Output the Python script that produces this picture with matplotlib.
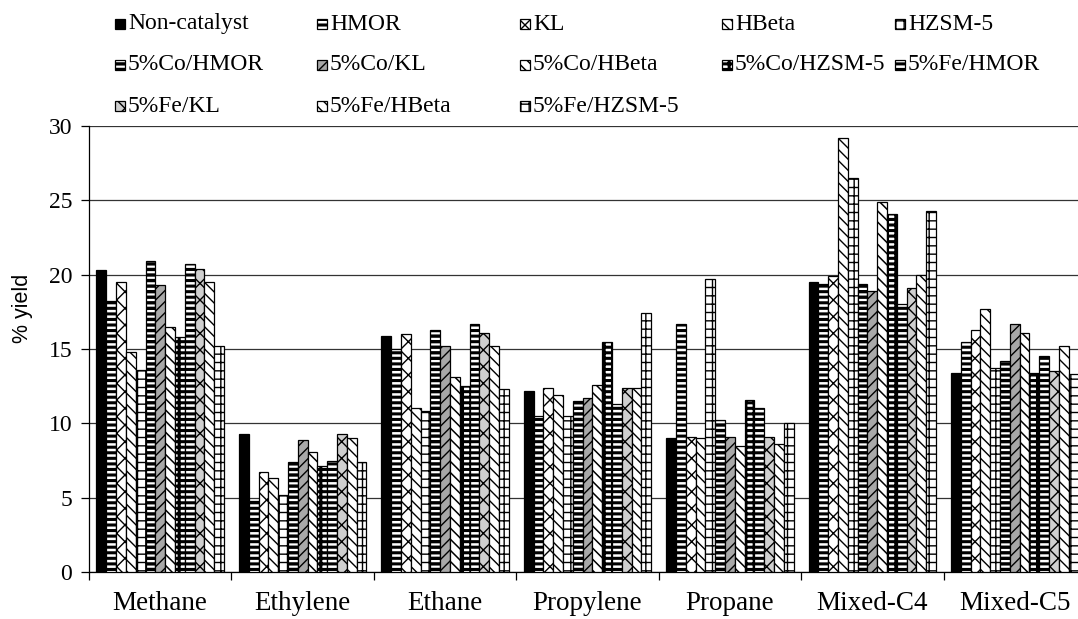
import matplotlib.pyplot as plt
import numpy as np
from matplotlib.patches import Rectangle

# --------------------------------------------------
# Product yields (%) for each catalyst
# --------------------------------------------------
products = ['Methane', 'Ethylene', 'Ethane', 'Propylene', 'Propane', 'Mixed-C4', 'Mixed-C5']

catalysts = ['Non-catalyst', 'HMOR', 'KL', 'HBeta', 'HZSM-5',
             '5%Co/HMOR', '5%Co/KL', '5%Co/HBeta', '5%Co/HZSM-5', '5%Fe/HMOR',
             '5%Fe/KL', '5%Fe/HBeta', '5%Fe/HZSM-5']

non_catalyst = [20.3, 9.3, 15.9, 12.2, 9.0, 19.5, 13.4]
hmor         = [18.2, 4.8, 15.0, 10.5, 16.7, 19.4, 15.5]
kl           = [19.5, 6.7, 16.0, 12.4, 9.1, 19.9, 16.3]
hbeta        = [14.8, 6.3, 11.0, 11.9, 9.0, 29.2, 17.7]
hzsm5        = [13.6, 5.2, 10.8, 10.5, 19.7, 26.5, 13.7]
co_hmor      = [20.9, 7.4, 16.3, 11.5, 10.2, 19.4, 14.2]
co_kl        = [19.3, 8.9, 15.2, 11.7, 9.1, 18.9, 16.7]
co_hbeta     = [16.5, 8.1, 13.1, 12.6, 8.5, 24.9, 16.1]
co_hzsm5     = [15.8, 7.1, 12.5, 15.5, 11.6, 24.1, 13.4]
fe_hmor      = [20.7, 7.5, 16.7, 11.3, 11.0, 18.0, 14.5]
fe_kl        = [20.4, 9.3, 16.1, 12.4, 9.1, 19.1, 13.5]
fe_hbeta     = [19.5, 9.0, 15.2, 12.4, 8.6, 20.0, 15.2]
fe_hzsm5     = [15.2, 7.4, 12.3, 17.4, 10.0, 24.3, 13.3]

series = [non_catalyst, hmor, kl, hbeta, hzsm5, co_hmor, co_kl, co_hbeta,
          co_hzsm5, fe_hmor, fe_kl, fe_hbeta, fe_hzsm5]

# fill colour, hatch and hatch line width for each catalyst
faces = ['black', 'white', 'white', 'white', 'white', 'white', '#a8a8a8',
         'white', 'white', 'white', '#cfcfcf', 'white', 'white']
hatches = ['', '---', 'xx', '\\\\\\', '++', '---', '///', '\\\\\\', '---||', '---',
           'xx', '\\\\\\', '++']
hatch_lw = [1.0, 2.2, 1.0, 1.0, 1.0, 2.4, 1.0, 1.1, 2.2, 2.2, 1.0, 1.0, 1.0]

# --------------------------------------------------
# Figure setup
# --------------------------------------------------
plt.rcParams['font.family'] = ['Liberation Serif', 'DejaVu Serif']
plt.rcParams['hatch.linewidth'] = 1.0

W, H = 1078, 619
fig = plt.figure(figsize=(W / 100, H / 100), dpi=100)
ax = fig.add_axes([89 / W, 47 / H, (1086 - 89) / W, (572 - 126) / H])


def set_hlw(patch, lw):
    if hasattr(patch, 'set_hatch_linewidth'):
        patch.set_hatch_linewidth(lw)


n = len(series)
group = 0.895
bw = group / n
x = np.arange(len(products))

for i, vals in enumerate(series):
    bars = ax.bar(x + 0.5 - group / 2 + bw * (i + 0.5), vals, width=bw,
                  color=faces[i], edgecolor='black', linewidth=0.9,
                  hatch=hatches[i], zorder=3)
    for b in bars:
        set_hlw(b, hatch_lw[i])

# --------------------------------------------------
# Axes, grid and ticks
# --------------------------------------------------
ax.set_xlim(0, len(products))
ax.set_ylim(0, 30)
ax.set_yticks(np.arange(0, 31, 5))
ax.tick_params(axis='y', labelsize=17, length=6, width=0.9, direction='out', pad=6)
ax.yaxis.grid(True, color='#333333', linewidth=0.9, zorder=0)

ax.set_xticks(np.arange(0, len(products) + 1))
ax.set_xticklabels([])
ax.set_xticks(x + 0.5, minor=True)
ax.set_xticklabels(products, minor=True, fontsize=19.5)
ax.tick_params(axis='x', which='major', length=6, width=0.9, direction='out')
ax.tick_params(axis='x', which='minor', length=0, pad=14)

for side in ['top', 'right']:
    ax.spines[side].set_visible(False)
for side in ['left', 'bottom']:
    ax.spines[side].set_linewidth(0.9)

ax.set_ylabel('% yield', fontsize=15.5, family=['Liberation Sans', 'DejaVu Sans'])
ax.yaxis.set_label_coords(-0.056, 0.59)

# --------------------------------------------------
# Legend: 5 columns, 3 rows above the plot
# --------------------------------------------------
col_x = [115, 317, 520, 722, 895]
row_y = [24, 65, 106]
box = 10
for i, name in enumerate(catalysts):
    cx = col_x[i % 5]
    cy = row_y[i // 5]
    key = Rectangle((cx / W, (H - cy - box / 2) / H), box / W, box / H,
                    transform=fig.transFigure, facecolor=faces[i],
                    edgecolor='black', linewidth=0.9, hatch=hatches[i])
    set_hlw(key, hatch_lw[i])
    fig.patches.append(key)
    fig.text((cx + box + 3) / W, (H - cy) / H, name, fontsize=17,
             ha='left', va='center')

plt.savefig('out.png', dpi=100)
